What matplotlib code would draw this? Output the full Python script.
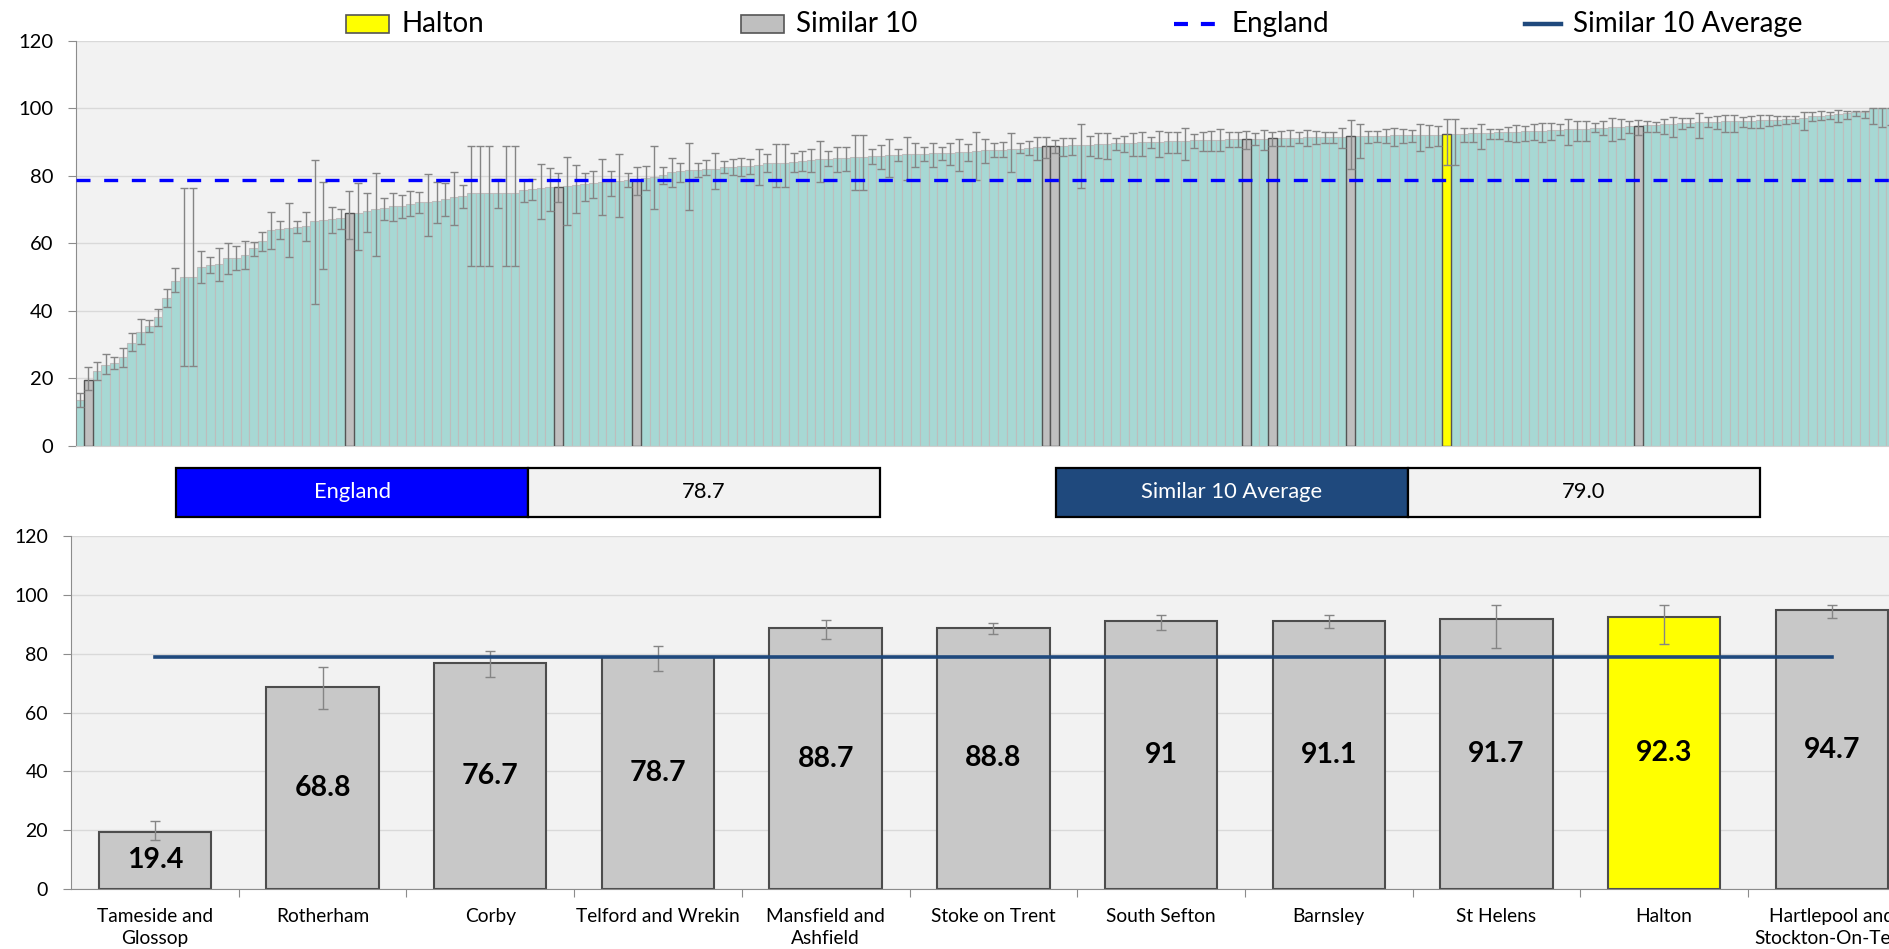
import numpy as np
import matplotlib
matplotlib.use("Agg")
import matplotlib.pyplot as plt
from matplotlib.patches import Rectangle
from matplotlib.lines import Line2D

plt.rcParams['font.family'] = ['Lato', 'DejaVu Sans']

# ---- data: all areas, ranked (top chart) ----
top_values = [
    13.5, 19.4, 22.1, 23.9, 24.6, 26.2, 30.5, 33.7, 35.5, 38.0,
    43.6, 48.9, 50.1, 50.1, 53.0, 53.5, 53.7, 55.5, 55.5, 56.6,
    58.5, 60.7, 63.9, 64.1, 64.4, 64.7, 65.1, 66.7, 66.9, 67.1,
    67.4, 68.8, 68.8, 69.5, 70.0, 70.3, 71.0, 71.0, 71.6, 72.2,
    72.3, 72.6, 73.2, 73.8, 74.0, 75.0, 75.0, 75.0, 75.0, 75.0,
    75.0, 75.8, 76.1, 76.4, 76.6, 76.7, 76.9, 77.1, 77.4, 77.8,
    78.0, 78.2, 78.4, 78.6, 78.7, 79.4, 79.7, 80.3, 81.0, 81.5,
    81.7, 81.8, 82.0, 82.1, 82.5, 82.7, 82.8, 82.9, 83.1, 83.7,
    83.8, 83.9, 84.1, 84.3, 84.5, 84.9, 85.0, 85.1, 85.2, 85.5,
    85.6, 85.7, 85.9, 86.1, 86.2, 86.3, 86.4, 86.5, 86.6, 86.7,
    86.8, 86.9, 87.0, 87.4, 87.5, 87.6, 87.7, 87.8, 88.0, 88.2,
    88.4, 88.7, 88.8, 88.9, 89.0, 89.1, 89.2, 89.3, 89.4, 89.6,
    89.7, 89.8, 89.9, 90.0, 90.1, 90.2, 90.3, 90.4, 90.5, 90.6,
    90.6, 90.7, 90.8, 90.9, 91.0, 91.0, 91.0, 91.1, 91.2, 91.3,
    91.3, 91.4, 91.4, 91.5, 91.5, 91.6, 91.7, 91.8, 91.8, 91.9,
    91.9, 92.0, 92.0, 92.1, 92.1, 92.2, 92.2, 92.3, 92.3, 92.4,
    92.5, 92.6, 92.7, 92.8, 92.9, 93.0, 93.1, 93.2, 93.3, 93.5,
    93.6, 93.7, 93.8, 93.9, 94.1, 94.2, 94.3, 94.4, 94.6, 94.7,
    95.0, 95.1, 95.2, 95.3, 95.5, 95.6, 95.8, 95.9, 96.0, 96.1,
    96.1, 96.2, 96.3, 96.4, 96.5, 96.6, 96.7, 96.9, 97.2, 97.6,
    97.8, 98.0, 98.2, 98.5, 98.8, 99.0, 100.0, 100.0, 100.0,
]
top_lo = [
    11.4, 16.6, 19.5, 21.2, 22.6, 23.4, 27.9, 30.1, 33.8, 35.3,
    41.0, 45.4, 23.7, 23.7, 48.1, 51.1, 48.8, 50.9, 51.9, 52.2,
    56.2, 57.8, 58.2, 61.1, 56.0, 62.9, 60.7, 41.9, 52.2, 62.9,
    64.1, 61.2, 58.0, 63.4, 56.2, 66.9, 66.7, 67.6, 67.9, 68.8,
    62.1, 66.1, 68.1, 65.3, 70.3, 53.2, 53.2, 53.2, 70.3, 53.2,
    53.2, 72.3, 72.8, 67.2, 69.5, 72.1, 65.3, 69.0, 72.5, 73.5,
    68.2, 74.0, 67.7, 76.7, 74.2, 75.8, 70.0, 77.4, 76.5, 78.2,
    69.8, 79.5, 80.2, 76.0, 80.9, 80.2, 79.9, 80.5, 77.2, 81.2,
    76.5, 76.5, 81.2, 81.5, 81.0, 78.2, 82.9, 81.2, 81.5, 75.8,
    75.8, 83.5, 81.9, 79.7, 84.2, 78.7, 82.7, 84.2, 82.5, 84.5,
    83.2, 81.3, 84.3, 78.7, 83.7, 85.6, 85.4, 81.1, 86.8, 86.0,
    84.5, 85.1, 86.8, 85.9, 86.0, 76.4, 85.8, 85.1, 84.8, 87.6,
    87.1, 85.8, 85.8, 88.1, 85.6, 86.6, 86.6, 84.6, 88.1, 87.3,
    87.4, 87.2, 88.6, 88.6, 88.0, 89.0, 87.6, 88.8, 88.7, 88.8,
    89.6, 88.8, 89.4, 89.7, 89.7, 88.1, 81.9, 85.3, 89.8, 89.9,
    89.6, 88.8, 89.6, 90.0, 87.3, 88.4, 88.8, 83.2, 83.1, 89.9,
    90.1, 88.0, 91.0, 90.8, 90.4, 90.1, 90.4, 90.6, 90.0, 90.6,
    92.1, 89.1, 90.2, 90.4, 92.8, 92.2, 90.3, 91.0, 92.6, 92.0,
    92.8, 93.0, 92.4, 91.4, 93.8, 94.3, 91.1, 94.5, 93.9, 93.0,
    93.0, 94.5, 94.2, 94.0, 94.7, 95.1, 95.2, 95.5, 93.5, 96.1,
    96.4, 96.7, 95.8, 96.7, 97.7, 97.0, 95.3, 94.5, 95.0,
]
top_hi = [
    15.7, 23.2, 24.9, 27.2, 26.4, 29.0, 33.3, 37.4, 37.2, 40.4,
    46.3, 52.5, 76.2, 76.2, 57.8, 55.8, 58.5, 60.1, 59.2, 60.7,
    60.4, 63.4, 69.1, 66.7, 71.8, 66.5, 69.1, 84.6, 78.0, 70.8,
    70.0, 75.5, 77.9, 74.8, 80.9, 73.3, 75.0, 74.3, 75.6, 75.1,
    80.5, 78.2, 77.9, 81.0, 77.2, 88.8, 88.8, 88.8, 79.0, 88.8,
    88.8, 78.7, 79.0, 83.4, 82.2, 80.8, 85.4, 83.3, 80.7, 81.4,
    85.0, 81.4, 86.4, 80.9, 82.5, 82.9, 88.8, 82.5, 85.1, 83.7,
    89.8, 83.9, 84.5, 86.8, 84.4, 85.0, 85.3, 85.0, 88.0, 86.4,
    89.4, 89.4, 86.8, 87.4, 87.8, 90.2, 87.3, 88.6, 88.4, 92.1,
    92.1, 87.9, 89.2, 90.8, 88.0, 91.6, 89.6, 88.6, 89.8, 88.6,
    89.8, 91.0, 89.3, 93.0, 90.8, 89.8, 90.1, 92.7, 89.6, 90.4,
    91.6, 91.5, 90.5, 91.1, 91.3, 95.2, 91.9, 92.5, 92.7, 91.3,
    91.7, 92.6, 92.8, 91.6, 93.2, 92.8, 92.8, 94.0, 92.3, 93.0,
    93.2, 93.7, 92.8, 92.9, 93.3, 92.7, 93.4, 93.0, 93.3, 93.6,
    92.9, 93.4, 93.1, 92.9, 92.9, 94.0, 96.4, 95.4, 93.3, 93.3,
    93.7, 94.2, 93.7, 93.5, 95.2, 95.0, 94.8, 96.7, 96.7, 94.0,
    94.2, 95.4, 93.7, 93.9, 94.5, 94.9, 94.8, 95.3, 95.7, 95.7,
    95.2, 96.7, 96.3, 96.3, 95.6, 96.1, 97.1, 96.7, 96.1, 96.6,
    96.3, 96.0, 96.9, 97.5, 97.1, 97.1, 98.5, 97.3, 97.7, 98.0,
    98.0, 97.5, 97.7, 97.9, 97.9, 97.7, 97.6, 97.6, 98.8, 98.8,
    99.1, 98.8, 99.5, 99.3, 99.3, 99.3, 100.0, 100.0, 100.0,
]
similar_ranks = [1, 31, 55, 64, 111, 112, 134, 137, 146, 179]
halton_rank = 157

# ---- data: Halton and its 10 similar areas (bottom chart) ----
names = ["Tameside and\nGlossop", "Rotherham", "Corby", "Telford and Wrekin",
         "Mansfield and\nAshfield", "Stoke on Trent", "South Sefton", "Barnsley",
         "St Helens", "Halton", "Hartlepool and\nStockton-On-Tees"]
values = [19.4, 68.8, 76.7, 78.7, 88.7, 88.8, 91.0, 91.1, 91.7, 92.3, 94.7]
lo = [16.6, 61.2, 72.1, 74.2, 85.1, 86.8, 88.0, 88.8, 81.9, 83.2, 92.0]
hi = [23.2, 75.5, 80.8, 82.5, 91.5, 90.5, 93.3, 93.0, 96.4, 96.7, 96.6]
england = 78.7
similar_avg = 79.0

teal = '#A7D8D4'
grey_bar = '#BFBFBF'
bg = '#F2F2F2'
grid_c = '#D9D9D9'
navy = '#1F497D'

W, H = 1889, 949
fig = plt.figure(figsize=(W / 100, H / 100), dpi=100)

# ================= top chart =================
ax = fig.add_axes([76 / W, 1 - 445.6 / H, 1 - 76 / W, (445.6 - 40.7) / H])
ax.set_facecolor(bg)
x = np.arange(len(top_values))
vals = np.array(top_values)
ax.bar(x, vals, width=1.0, color=teal, edgecolor='#BDBDBD', linewidth=0.8, zorder=2)
for r in similar_ranks:
    ax.bar(r, vals[r], width=1.0, color=grey_bar, edgecolor='#555555', linewidth=1.0, zorder=3)
ax.bar(halton_rank, vals[halton_rank], width=1.0, color='#FFFF00', edgecolor='#555555', linewidth=1.0, zorder=3)
ax.errorbar(x, vals, yerr=[vals - np.array(top_lo), np.array(top_hi) - vals], fmt='none',
            ecolor='#858585', elinewidth=1.0, capsize=2.6, capthick=1.0, zorder=4)
ax.axhline(england, color='#0000FF', lw=2.4, dashes=(4.2, 4.1), zorder=5)
ax.set_xticks([])
ax.set_yticks(np.arange(0, 121, 20))
ax.set_xlim(-0.41, (W - 79.6) / 8.707)
ax.set_ylim(0, 120)
ax.yaxis.grid(True, color=grid_c, lw=1.0, zorder=0)
ax.set_axisbelow(True)
for s in ['top', 'right']:
    ax.spines[s].set_visible(False)
ax.spines['left'].set_color('#8C8C8C')
ax.spines['bottom'].set_color('#D0D0D0')
ax.tick_params(axis='y', direction='out', length=5.5, color='#8C8C8C', labelsize=14.5, pad=11)

# legend, drawn in figure pixels
def fx(px):
    return px / W

def fy(py):
    return 1 - py / H

ly = 24
lfs = 20
fig.patches.append(Rectangle((fx(346), fy(32.5)), fx(43), 17 / H, transform=fig.transFigure,
                             facecolor='#FFFF00', edgecolor='#555555', lw=1.2))
fig.text(fx(401), fy(ly), "Halton", fontsize=lfs, va='center', ha='left')
fig.patches.append(Rectangle((fx(741), fy(32.5)), fx(43), 17 / H, transform=fig.transFigure,
                             facecolor=grey_bar, edgecolor='#555555', lw=1.2))
fig.text(fx(796), fy(ly), "Similar 10", fontsize=lfs, va='center', ha='left')
fig.lines.append(Line2D([fx(1174), fx(1217)], [fy(ly), fy(ly)], transform=fig.transFigure,
                        color='#0000FF', lw=3.0, dashes=(3.35, 3.1)))
fig.text(fx(1232), fy(ly), "England", fontsize=lfs, va='center', ha='left')
fig.lines.append(Line2D([fx(1525), fx(1561)], [fy(ly), fy(ly)], transform=fig.transFigure,
                        color=navy, lw=3.2))
fig.text(fx(1573), fy(ly), "Similar 10 Average", fontsize=lfs, va='center', ha='left')

# summary boxes
def summary_box(x0, label, value, color):
    fig.patches.append(Rectangle((fx(x0), fy(517)), fx(352), 49 / H, transform=fig.transFigure,
                                 facecolor=color, edgecolor='black', lw=1.6))
    fig.patches.append(Rectangle((fx(x0 + 352), fy(517)), fx(352), 49 / H, transform=fig.transFigure,
                                 facecolor=bg, edgecolor='black', lw=1.6))
    fig.text(fx(x0 + 176), fy(492.5), label, color='white', fontsize=15.8, ha='center', va='center')
    fig.text(fx(x0 + 528), fy(492.5), value, color='black', fontsize=15.8, ha='center', va='center')

summary_box(176, "England", f"{england:.1f}", '#0000FF')
summary_box(1056, "Similar 10 Average", f"{similar_avg:.1f}", navy)

# ================= bottom chart =================
bx = fig.add_axes([71 / W, 1 - 889 / H, 1 - 71 / W, (889 - 536) / H])
bx.set_facecolor(bg)
xb = np.arange(len(values))
bvals = np.array(values)
bcolors = ['#FFFF00' if n == "Halton" else '#C8C8C8' for n in names]
bx.bar(xb, bvals, width=0.67, color=bcolors, edgecolor='#4D4D4D', linewidth=1.5, zorder=2)
bx.errorbar(xb, bvals, yerr=[bvals - np.array(lo), np.array(hi) - bvals], fmt='none',
            ecolor='#858585', elinewidth=1.0, capsize=3.5, capthick=1.0, zorder=3)
bx.plot([xb[0], xb[-1]], [similar_avg, similar_avg], color=navy, lw=2.6, zorder=4)
for i, v in enumerate(values):
    bx.text(i, v / 2, f"{v:g}", ha='center', va='center', fontsize=20.5, fontweight='bold', zorder=5)
bx.set_yticks(np.arange(0, 121, 20))
bx.set_xticks(np.arange(len(values)) + 0.5)
bx.set_xticklabels([])
bx.set_xticks(xb, minor=True)
bx.set_xticklabels(names, minor=True, fontsize=13.8, linespacing=1.3)
# limits after the ticks so the ticks do not widen the view
bx.set_xlim(-0.5, (W - 71) / 167.7 - 0.5)
bx.set_ylim(0, 120)
bx.yaxis.grid(True, color=grid_c, lw=1.0, zorder=0)
bx.set_axisbelow(True)
bx.tick_params(axis='x', which='minor', length=0, pad=14)
bx.tick_params(axis='x', which='major', direction='out', length=6, color='#8C8C8C')
bx.tick_params(axis='y', direction='out', length=5.5, color='#8C8C8C', labelsize=14, pad=11)
for s in ['top', 'right']:
    bx.spines[s].set_visible(False)
bx.spines['left'].set_color('#8C8C8C')
bx.spines['bottom'].set_color('#8C8C8C')

fig.savefig("out.png", dpi=100)
